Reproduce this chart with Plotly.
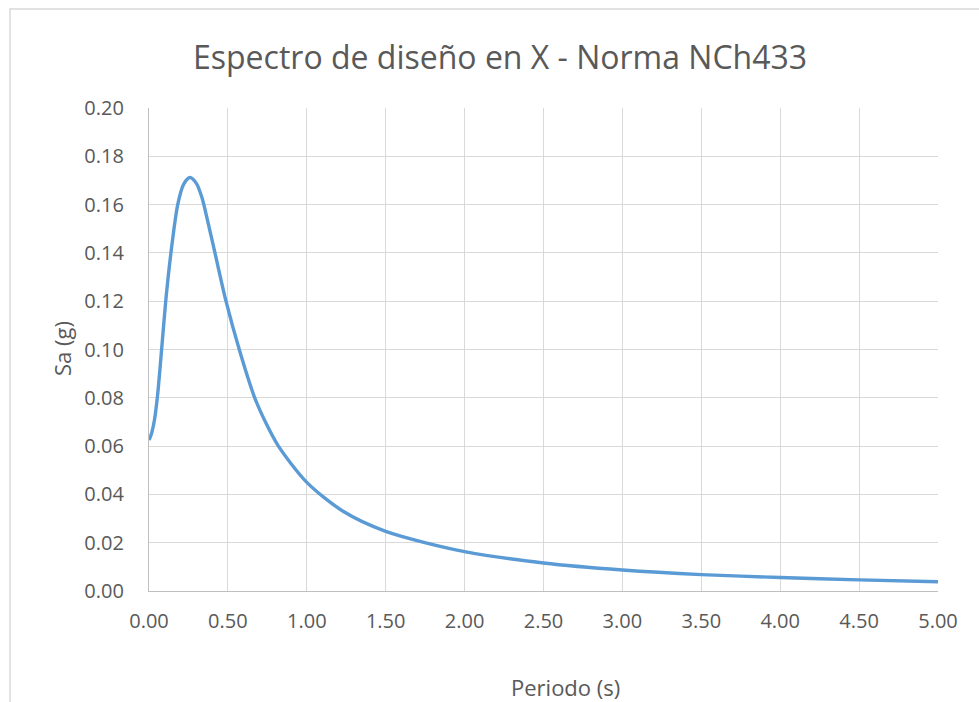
import plotly.graph_objects as go

# Data
periodo = [0.0, 0.015, 0.035, 0.055, 0.080, 0.106, 0.139, 0.182, 0.22, 0.26,
           0.30, 0.335, 0.376, 0.418, 0.488, 0.572, 0.670, 0.745, 0.82, 1.0,
           1.23, 1.5, 2.0, 2.5, 3.0, 3.5, 4.0, 4.5, 5.0]
sa = [0.0625, 0.0650, 0.0710, 0.0815, 0.1000, 0.1200, 0.1400, 0.1600, 0.1685, 0.1712,
      0.1688, 0.1630, 0.1520, 0.1400, 0.1200, 0.1000, 0.0800, 0.0690, 0.0600, 0.0450,
      0.0330, 0.0247, 0.0163, 0.0116, 0.0087, 0.0068, 0.0056, 0.0046, 0.0038]

x_ticks = [0, 0.5, 1.0, 1.5, 2.0, 2.5, 3.0, 3.5, 4.0, 4.5, 5.0]
y_ticks = [0, 0.02, 0.04, 0.06, 0.08, 0.10, 0.12, 0.14, 0.16, 0.18, 0.20]

title_text = "Espectro de diseño en X - Norma NCh433"
x_title = "Periodo (s)"
y_title = "Sa (g)"

W, H = 979, 702
L, R, T, B = 149, 41, 108, 111
pw, ph = W - L - R, H - T - B

def px(xp):
    return (xp - L) / pw

def py(yp):
    return (H - B - yp) / ph

FONT = "Open Sans"
GREY = "#595959"
TICK = 20

fig = go.Figure()
fig.add_trace(go.Scatter(
    x=periodo, y=sa, mode="lines",
    line=dict(color="#5B9BD5", width=3.4, shape="spline", smoothing=0.8),
    hoverinfo="x+y", showlegend=False,
))

fig.update_layout(
    width=W, height=H,
    margin=dict(l=L, r=R, t=T, b=B),
    paper_bgcolor="white", plot_bgcolor="white",
    font=dict(family=FONT, color=GREY, size=TICK),
    xaxis=dict(range=[0, 5], tickvals=x_ticks, tickformat=".2f",
               showgrid=True, gridcolor="#D9D9D9", gridwidth=1.3,
               showline=True, linecolor="#BFBFBF", linewidth=1.3,
               zeroline=False, ticks="", ticklabelstandoff=12,
               tickfont=dict(size=TICK, color=GREY, family=FONT)),
    yaxis=dict(range=[0, 0.2], tickvals=y_ticks, tickformat=".2f",
               showgrid=True, gridcolor="#D9D9D9", gridwidth=1.3,
               showline=True, linecolor="#BFBFBF", linewidth=1.3,
               zeroline=False, ticks="", ticklabelstandoff=20,
               tickfont=dict(size=TICK, color=GREY, family=FONT)),
    shapes=[dict(type="rect", xref="paper", yref="paper",
                 x0=px(10), x1=px(990), y0=py(712), y1=py(9),
                 line=dict(color="#D9D9D9", width=1.5), fillcolor="rgba(0,0,0,0)",
                 layer="below")],
    annotations=[
        dict(text=title_text, xref="paper", yref="paper", x=px(500), y=py(57),
             xanchor="center", yanchor="middle", showarrow=False,
             font=dict(size=32, color=GREY, family=FONT)),
        dict(text=x_title, xref="paper", yref="paper", x=px(565), y=py(687),
             xanchor="center", yanchor="middle", showarrow=False,
             font=dict(size=22, color=GREY, family=FONT)),
        dict(text=y_title, xref="paper", yref="paper", x=px(62), y=py(349),
             xanchor="center", yanchor="middle", showarrow=False, textangle=-90,
             font=dict(size=22, color=GREY, family=FONT)),
    ],
)

fig.write_html("out.html")
